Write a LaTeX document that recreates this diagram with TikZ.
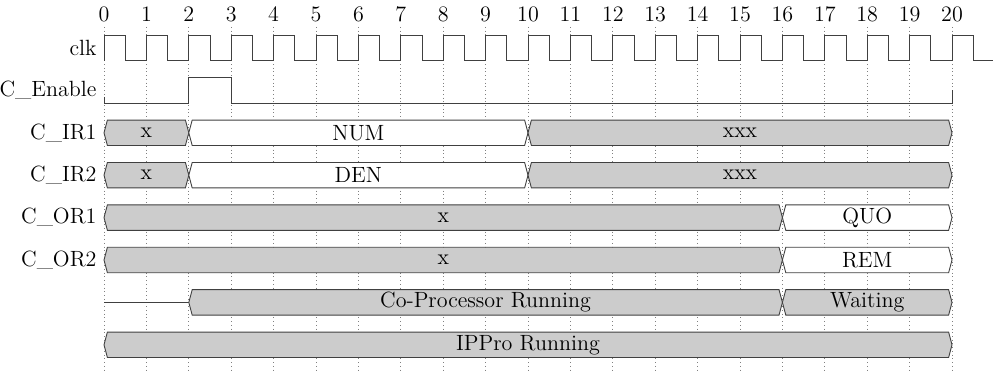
\documentclass[tikz,border=0pt]{standalone}
\usepackage{tikz}
\usetikzlibrary{positioning}

% bus segment: name, from, to, row, fill, text
\newcommand{\busbox}[6]{%
  \draw[wave,fill=#5] (#2,-#4) -- (#2+0.08,-#4+0.3) -- (#3-0.08,-#4+0.3)
    -- (#3,-#4) -- (#3-0.08,-#4-0.3) -- (#2+0.08,-#4-0.3) -- cycle;
  \node[bus text] (#1) at ({(#2+#3)/2},-#4) {#6};
}
\newcommand{\wavefont}{\fontsize{14.8}{17}\selectfont}

\begin{document}
\begin{tikzpicture}[wave/.style={draw=black!75,line width=0.6pt,line join=miter},
    grid line/.style={gray,dotted,line width=0.5pt},
    tick/.style={font=\wavefont},
    sig label/.style={anchor=east,font=\wavefont,inner sep=0pt},
    bus text/.style={font=\wavefont,inner sep=0pt}]
    \useasboundingbox (-2.453,1.132) rectangle (20.967,-7.642);

    \foreach \i in {0,...,20} {
      \draw[grid line] (\i,0.5) -- (\i,-7.64);
      \node[tick] (t\i) at (\i,0.8) {\i};
    }

    \node[sig label] (clk) at (-0.17,0) {clk};
    \node[sig label] (en) at (-0.17,-1) {C\_Enable};
    \node[sig label] (ir1) at (-0.17,-2) {C\_IR1};
    \node[sig label] (ir2) at (-0.17,-3) {C\_IR2};
    \node[sig label] (or1) at (-0.17,-4) {C\_OR1};
    \node[sig label] (or2) at (-0.17,-5) {C\_OR2};

    % clock and enable
    \draw[wave] (0,-0.3) \foreach \i in {0,...,20} {-- (\i,0.3) -- (\i+0.5,0.3) -- (\i+0.5,-0.3) -- (\i+1,-0.3)};
    \draw[wave] (0,-1.15) -- (0,-1.3) -- (2,-1.3) -- (2,-0.7) -- (3,-0.7) -- (3,-1.3) -- (20,-1.3) -- (20,-1);

    \busbox{ir1x}{0}{2}{2}{black!20}{x}
    \busbox{ir1num}{2}{10}{2}{white}{NUM}
    \busbox{ir1xxx}{10}{20}{2}{black!20}{xxx}

    \busbox{ir2x}{0}{2}{3}{black!20}{x}
    \busbox{ir2den}{2}{10}{3}{white}{DEN}
    \busbox{ir2xxx}{10}{20}{3}{black!20}{xxx}

    \busbox{or1x}{0}{16}{4}{black!20}{x}
    \busbox{or1quo}{16}{20}{4}{white}{QUO}

    \busbox{or2x}{0}{16}{5}{black!20}{x}
    \busbox{or2rem}{16}{20}{5}{white}{REM}

    \draw[wave] (0,-6) -- (2,-6);
    \busbox{cprun}{2}{16}{6}{black!20}{Co-Processor Running}
    \busbox{cpwait}{16}{20}{6}{black!20}{Waiting}

    \busbox{iprun}{0}{20}{7}{black!20}{IPPro Running}
\end{tikzpicture}
\end{document}
